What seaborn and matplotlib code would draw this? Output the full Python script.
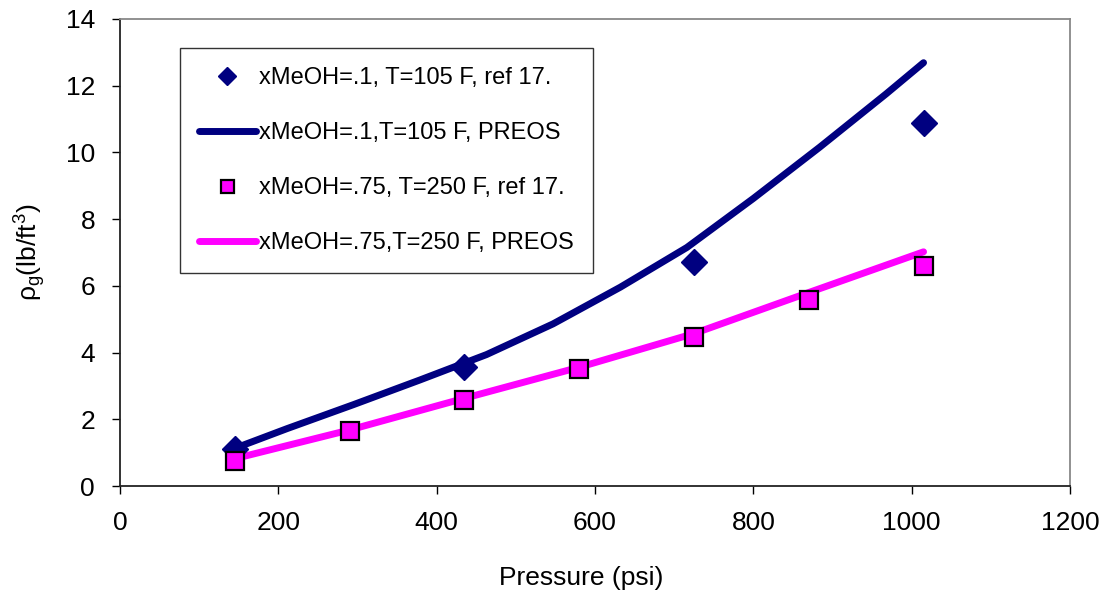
import matplotlib
matplotlib.use("Agg")
import matplotlib.pyplot as plt
import seaborn as sns
import pandas as pd

# ---- data ----
p_ref1 = [145, 435, 725, 1015]
rho_ref1 = [1.1, 3.57, 6.71, 10.88]

p_eos1 = [145, 211, 295, 379, 463, 547, 632, 716, 800, 884, 968, 1015]
rho_eos1 = [1.13, 1.72, 2.44, 3.18, 3.94, 4.86, 5.96, 7.15, 8.62, 10.16, 11.76, 12.69]

p_ref2 = [145, 290, 435, 580, 725, 870, 1015]
rho_ref2 = [0.75, 1.65, 2.58, 3.5, 4.47, 5.58, 6.6]

p_eos2 = [145, 290, 435, 580, 725, 870, 1015]
rho_eos2 = [0.82, 1.68, 2.63, 3.56, 4.57, 5.8, 7.02]

labels = ["xMeOH=.1, T=105 F, ref 17.",
          "xMeOH=.1,T=105 F, PREOS",
          "xMeOH=.75, T=250 F, ref 17.",
          "xMeOH=.75,T=250 F, PREOS"]

x_ticks = [0, 200, 400, 600, 800, 1000, 1200]
y_ticks = [0, 2, 4, 6, 8, 10, 12, 14]

navy = "#000080"
magenta = "#FF00FF"

sns.set_theme(style="white")
plt.rcParams["font.family"] = ["Liberation Sans", "DejaVu Sans"]
plt.rcParams["mathtext.fontset"] = "custom"
plt.rcParams["mathtext.rm"] = "Liberation Sans"
plt.rcParams["mathtext.it"] = "Liberation Sans"
plt.rcParams["mathtext.bf"] = "Liberation Sans"

fig = plt.figure(figsize=(11.09, 5.99), dpi=100)
ax = fig.add_axes([120 / 1109, (599 - 486) / 599, 950 / 1109, 467 / 599])

df_eos1 = pd.DataFrame({"p": p_eos1, "rho": rho_eos1})
df_eos2 = pd.DataFrame({"p": p_eos2, "rho": rho_eos2})

sns.lineplot(data=df_eos1, x="p", y="rho", ax=ax, color=navy, linewidth=5,
             solid_capstyle="round", solid_joinstyle="round",
             label=labels[1], zorder=2, sort=False)
sns.lineplot(data=df_eos2, x="p", y="rho", ax=ax, color=magenta, linewidth=5,
             solid_capstyle="round", solid_joinstyle="round",
             label=labels[3], zorder=2, sort=False)
ax.plot(p_ref1, rho_ref1, linestyle="none", marker="D", markersize=13,
        color=navy, markeredgecolor=navy, label=labels[0], zorder=3)
ax.plot(p_ref2, rho_ref2, linestyle="none", marker="s", markersize=13,
        markerfacecolor=magenta, markeredgecolor="black", markeredgewidth=1.6,
        label=labels[2], zorder=3)

ax.set_xlim(0, 1200)
ax.set_ylim(0, 14)
ax.set_xticks(x_ticks)
ax.set_yticks(y_ticks)
ax.tick_params(axis="both", which="major", direction="out", length=6,
               width=1, color="black", labelsize=19, labelcolor="black",
               bottom=True, left=True)
ax.tick_params(axis="x", pad=12)
ax.tick_params(axis="y", pad=12)

for side in ["left", "bottom"]:
    ax.spines[side].set_color("#222222")
    ax.spines[side].set_linewidth(1.3)
for side in ["top", "right"]:
    ax.spines[side].set_color("#888888")
    ax.spines[side].set_linewidth(1.3)
    ax.spines[side].set_visible(True)

ax.set_xlabel("Pressure (psi)", fontsize=19, color="black")
ax.set_ylabel(r"$\rho_{g}$(lb/ft$^{3}$)", fontsize=19, color="black")
ax.xaxis.set_label_coords((581 - 120) / 950, (486 - 566) / 467)
ax.yaxis.set_label_coords((48 - 120) / 950, 0.5)

handles, labs = ax.get_legend_handles_labels()
order = [labs.index(l) for l in labels]
leg = ax.legend([handles[i] for i in order], [labs[i] for i in order],
                loc="upper left", bbox_to_anchor=((180 - 120) / 950, (486 - 48) / 467),
                borderaxespad=0, fontsize=17, frameon=True, fancybox=False,
                edgecolor="#333333", framealpha=1, handlelength=2.4,
                handletextpad=0.15, labelspacing=1.4, borderpad=0.8,
                markerscale=0.72)
leg.get_frame().set_linewidth(1.0)
for t in leg.get_texts():
    t.set_color("black")

fig.savefig("out.png", dpi=100, facecolor="white")
